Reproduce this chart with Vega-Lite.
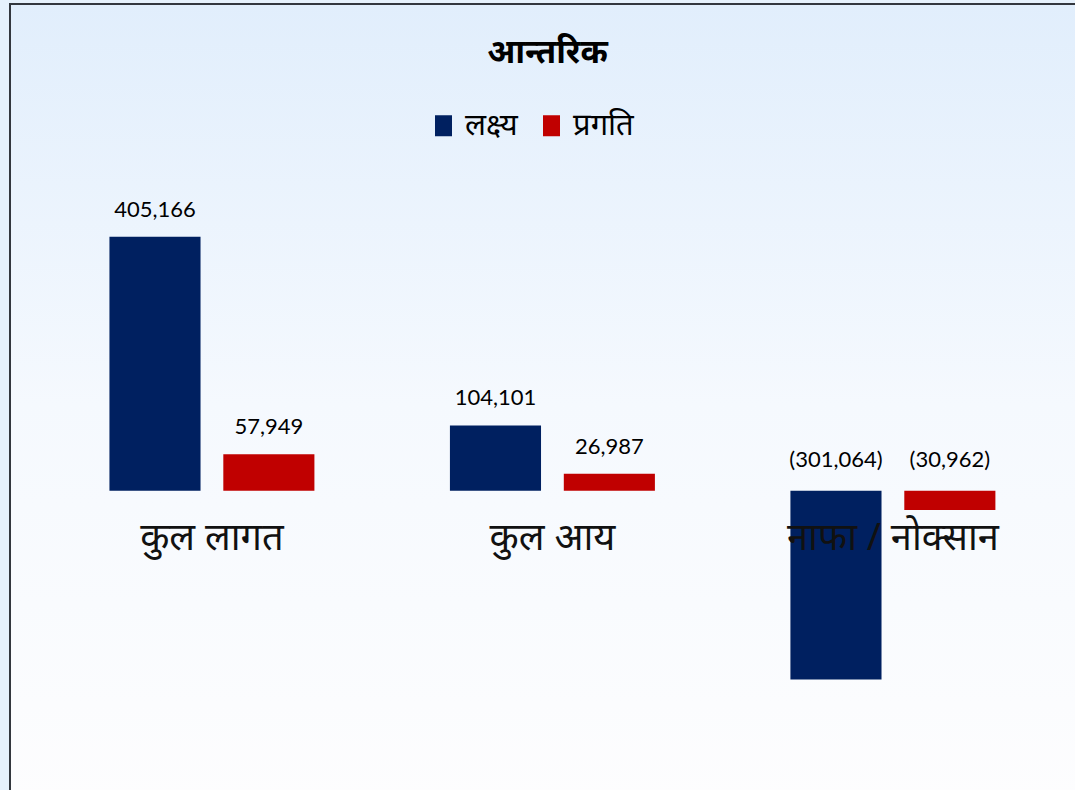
{
  "$schema": "https://vega.github.io/schema/vega-lite/v6.json",
  "autosize": "none",
  "width": 1075,
  "height": 800,
  "padding": {"left": 10, "top": 4, "right": 0, "bottom": 0},
  "background": "#E6F1FC",
  "config": {
    "view": {
      "fill": {"gradient": "linear", "x1": 0, "y1": 0, "x2": 0, "y2": 1,
        "stops": [{"offset": 0, "color": "#E1EEFC"}, {"offset": 0.5, "color": "#F5F9FE"}, {"offset": 1, "color": "#FDFDFE"}]},
      "stroke": "#33373E",
      "strokeWidth": 2
    }
  },
  "title": {"text": "आन्तरिक", "fontSize": 33, "fontWeight": "bold", "font": "Noto Sans", "color": "#000000", "offset": -66, "anchor": "middle"},
  "data": {"values": [
    {"category": "कुल लागत", "series": "लक्ष्य", "value": 405166},
    {"category": "कुल लागत", "series": "प्रगति", "value": 57949},
    {"category": "कुल आय", "series": "लक्ष्य", "value": 104101},
    {"category": "कुल आय", "series": "प्रगति", "value": 26987},
    {"category": "नाफा / नोक्सान", "series": "लक्ष्य", "value": -301064},
    {"category": "नाफा / नोक्सान", "series": "प्रगति", "value": -30962}
  ]},
  "encoding": {
    "x": {"field": "category", "type": "nominal", "sort": ["कुल लागत", "कुल आय", "नाफा / नोक्सान"],
      "scale": {"paddingInner": 0.398, "paddingOuter": 0.2776, "align": 0.526}, "axis": null}
  },
  "layer": [
    {
      "mark": {"type": "bar"},
      "encoding": {
        "xOffset": {"field": "series", "type": "nominal", "sort": ["लक्ष्य", "प्रगति"], "scale": {"paddingInner": 0.2, "paddingOuter": 0}},
        "y": {"field": "value", "type": "quantitative", "scale": {"domain": [-499700, 776200], "nice": false, "zero": false}, "axis": null},
        "color": {"field": "series", "type": "nominal", "sort": ["लक्ष्य", "प्रगति"],
          "scale": {"domain": ["लक्ष्य", "प्रगति"], "range": ["#002060", "#C00000"]},
          "legend": {"orient": "none", "legendX": 418, "legendY": 106, "direction": "horizontal", "title": null,
            "labelFontSize": 31, "labelFont": "Noto Sans", "labelColor": "#000000",
            "symbolType": "M-0.81,-1H0.81V1H-0.81Z", "symbolSize": 441,
            "symbolStrokeWidth": 0, "symbolOpacity": 1, "columnPadding": 18, "labelOffset": 6, "labelLimit": 300}}
      }
    },
    {
      "mark": {"type": "rule", "color": "#A6A6A6", "strokeWidth": 1.5},
      "encoding": {"y": {"datum": 0, "type": "quantitative"}}
    },
    {
      "transform": [{"filter": "datum.value >= 0"}],
      "mark": {"type": "text", "font": "Lato", "fontSize": 22, "color": "#000000", "baseline": "middle", "dy": -27},
      "encoding": {
        "xOffset": {"field": "series", "type": "nominal", "sort": ["लक्ष्य", "प्रगति"]},
        "y": {"field": "value", "type": "quantitative"},
        "text": {"field": "value", "type": "quantitative", "format": "(,"}
      }
    },
    {
      "transform": [{"filter": "datum.value < 0"}],
      "mark": {"type": "text", "font": "Lato", "fontSize": 22, "color": "#000000", "baseline": "middle", "dy": -31},
      "encoding": {
        "xOffset": {"field": "series", "type": "nominal", "sort": ["लक्ष्य", "प्रगति"]},
        "y": {"datum": 0, "type": "quantitative"},
        "text": {"field": "value", "type": "quantitative", "format": "(,"}
      }
    },
    {
      "transform": [{"filter": "datum.series === 'लक्ष्य'"}],
      "mark": {"type": "text", "font": "Noto Sans", "fontSize": 38, "color": "#111111", "baseline": "middle", "dy": 48},
      "encoding": {
        "y": {"datum": 0, "type": "quantitative"},
        "text": {"field": "category", "type": "nominal"}
      }
    }
  ]
}
